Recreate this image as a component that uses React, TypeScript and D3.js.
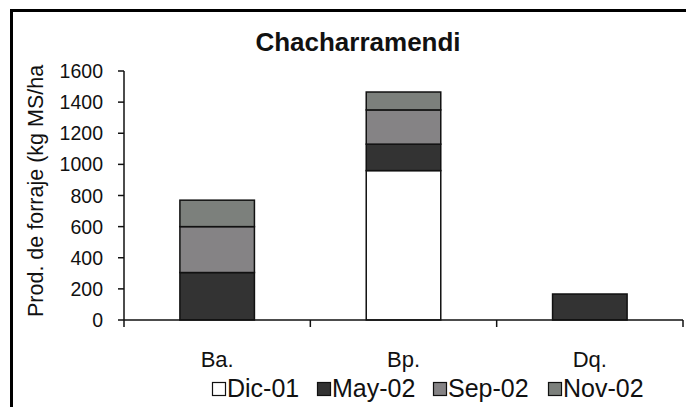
import React from "react";
import * as d3 from "d3";

const categories = ["Ba.", "Bp.", "Dq."];
const seriesNames = ["Dic-01", "May-02", "Sep-02", "Nov-02"];
const dic01 = [0, 960, 0];
const may02 = [305, 170, 167];
const sep02 = [295, 220, 0];
const nov02 = [170, 115, 0];
const yTicks = [0, 200, 400, 600, 800, 1000, 1200, 1400, 1600];
const colors = ["#ffffff", "#333333", "#858385", "#7c807c"];

const W = 686;
const H = 407;
const FONT = "'Liberation Sans', Arial, sans-serif";

export default function App() {
  const values = [dic01, may02, sep02, nov02];
  const rows = categories.map((c, i) => {
    const r: any = { cat: c };
    seriesNames.forEach((s, j) => (r[s] = values[j][i]));
    return r;
  });
  const stack = d3.stack<any>().keys(seriesNames)(rows);

  const x = d3
    .scaleBand<string>()
    .domain(categories)
    .range([124, 683])
    .paddingInner(0.6)
    .paddingOuter(0.3);
  const y = d3.scaleLinear().domain([0, 1600]).range([320, 71]);
  const step = x.step();
  const boundaries = d3.range(categories.length + 1).map((i) => 124 + i * step);

  const legendX = [212, 317, 433, 548];

  return (
    <svg
      width={W}
      height={H}
      style={{ position: "absolute", left: 0, top: 0 }}
      fontFamily={FONT}
    >
      <rect x={0} y={0} width={W} height={H} fill="#ffffff" />
      {/* frame */}
      <line x1={11.5} y1={10.5} x2={11.5} y2={H} stroke="#000" strokeWidth={3} />
      <line x1={10} y1={10.5} x2={W} y2={10.5} stroke="#000" strokeWidth={3} />

      <text x={358} y={51} textAnchor="middle" fontSize={26} fontWeight="bold" fill="#111">
        Chacharramendi
      </text>

      {/* y label */}
      <text
        transform={`translate(43,317) rotate(-90)`}
        textAnchor="start"
        fontSize={21.5}
        fill="#111"
      >
        Prod. de forraje (kg MS/ha
      </text>

      {/* bars */}
      {stack.map((layer, li) =>
        layer.map((d, i) =>
          d[1] - d[0] > 0 ? (
            <rect
              key={`${li}-${i}`}
              x={x(categories[i])!}
              y={y(d[1])}
              width={x.bandwidth()}
              height={y(d[0]) - y(d[1])}
              fill={colors[li]}
              stroke="#111"
              strokeWidth={1.5}
            />
          ) : null
        )
      )}

      {/* y axis */}
      <line x1={124} y1={y(1600)} x2={124} y2={y(0)} stroke="#111" strokeWidth={1.5} />
      {yTicks.map((t) => (
        <g key={t}>
          <line x1={118} x2={124} y1={y(t)} y2={y(t)} stroke="#111" strokeWidth={1.5} />
          <text x={103} y={y(t)} dy="0.36em" textAnchor="end" fontSize={19.5} fill="#111">
            {t}
          </text>
        </g>
      ))}

      {/* x axis */}
      <line x1={124} y1={y(0)} x2={683} y2={y(0)} stroke="#111" strokeWidth={1.5} />
      {boundaries.map((b, i) => (
        <line key={i} x1={b} x2={b} y1={y(0)} y2={y(0) + 7} stroke="#111" strokeWidth={1.5} />
      ))}
      {categories.map((c) => (
        <text
          key={c}
          x={x(c)! + x.bandwidth() / 2}
          y={367}
          textAnchor="middle"
          fontSize={22}
          fill="#111"
        >
          {c}
        </text>
      ))}

      {/* legend */}
      {seriesNames.map((s, i) => (
        <g key={s} transform={`translate(${legendX[i]},0)`}>
          <rect x={0.5} y={382.5} width={13} height={13} fill={colors[i]} stroke="#111" strokeWidth={1.2} />
          <text x={15} y={397} fontSize={25} fill="#111">
            {s}
          </text>
        </g>
      ))}
    </svg>
  );
}
